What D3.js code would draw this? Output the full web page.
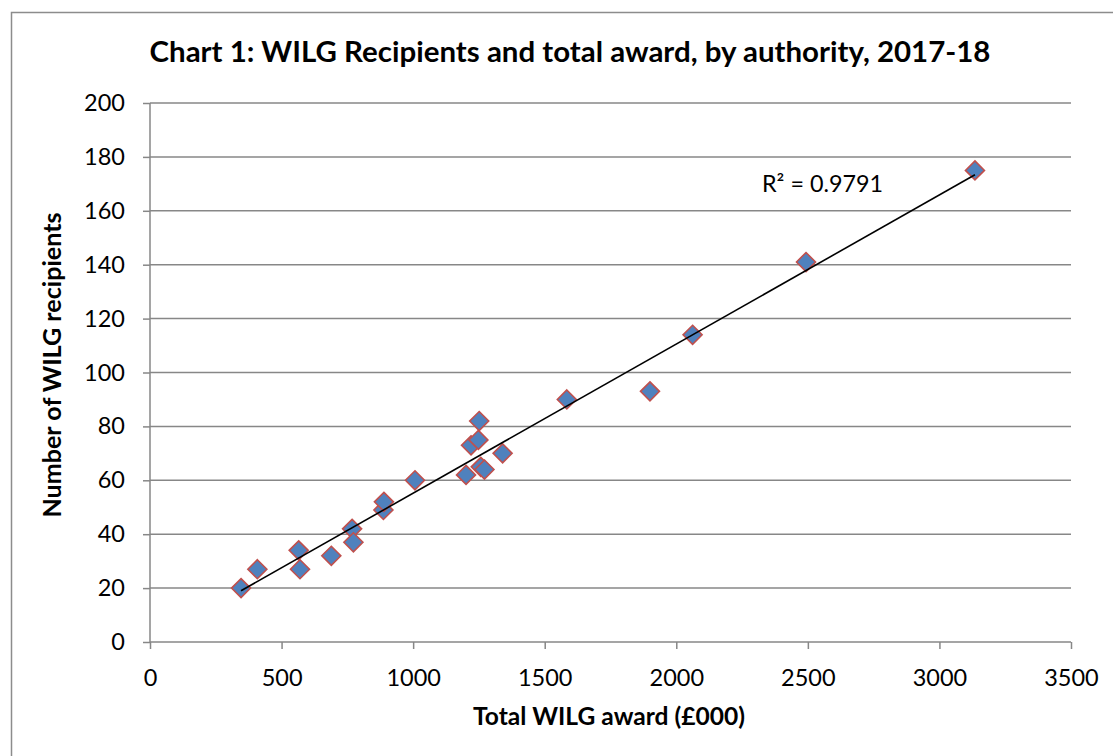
<!DOCTYPE html>
<html>
<head>
<meta charset="utf-8">
<script src="https://cdn.jsdelivr.net/npm/d3@7"></script>
<style>
  html, body { margin: 0; padding: 0; background: #fff; }
  svg { display: block; }
  text { font-family: Lato, "Open Sans", "Liberation Sans", sans-serif; fill: #000; }
</style>
</head>
<body>
<svg id="chart" width="1113" height="756"></svg>
<script>
const award = [346, 408, 565, 570, 689, 768, 773, 887, 889, 1007, 1201, 1220, 1248, 1251, 1257, 1271, 1340, 1584, 1900, 2062, 2493, 3135];
const recipients = [20, 27, 34, 27, 32, 42, 37, 49, 52, 60, 62, 73, 75, 82, 65, 64, 70, 90, 93, 114, 141, 175];
const xTicks = [0, 500, 1000, 1500, 2000, 2500, 3000, 3500];
const yTicks = [0, 20, 40, 60, 80, 100, 120, 140, 160, 180, 200];
const titleText = "Chart 1: WILG Recipients and total award, by authority, 2017-18";
const xTitle = "Total WILG award (£000)";
const yTitle = "Number of WILG recipients";
const r2Label = "R² = 0.9791";

const svg = d3.select("#chart");
const grid = "#878787";

svg.append("rect").attr("x", 11.5).attr("y", 12.5).attr("width", 1120).attr("height", 760)
  .attr("fill", "#fff").attr("stroke", "#8c8c8c").attr("stroke-width", 1.5);

const x = d3.scaleLinear().domain([0, 3500]).range([150, 1071]);
const y = d3.scaleLinear().domain([0, 200]).range([642, 103]);

function fit(sel, w) {
  let fs = parseFloat(sel.attr("font-size"));
  for (let i = 0; i < 3; i++) {
    const cw = sel.node().getComputedTextLength();
    fs = fs * w / cw;
    sel.attr("font-size", fs);
  }
}

// gridlines
svg.append("g").selectAll("line").data(yTicks.filter(d => d > 0)).join("line")
  .attr("x1", x(0)).attr("x2", x(3500))
  .attr("y1", d => y(d)).attr("y2", d => y(d))
  .attr("stroke", grid).attr("stroke-width", 1.5);

// y axis
const yAxis = svg.append("g").attr("transform", `translate(${x(0)},0)`)
  .call(d3.axisLeft(y).tickValues(yTicks).tickFormat(d3.format("d")).tickSize(7).tickPadding(18));
yAxis.select(".domain").attr("stroke", grid).attr("stroke-width", 1.5).attr("d", `M0,${y(0)}V${y(200)}`);
yAxis.selectAll(".tick line").attr("stroke", grid).attr("stroke-width", 1.5);
yAxis.selectAll(".tick text").attr("font-size", 23.5).attr("font-family", "Lato, sans-serif").attr("fill", "#000");

// x axis
const xAxis = svg.append("g").attr("transform", `translate(0,${y(0)})`)
  .call(d3.axisBottom(x).tickValues(xTicks).tickFormat(d3.format("d")).tickSize(7).tickPadding(20));
xAxis.select(".domain").attr("stroke", grid).attr("stroke-width", 1.5).attr("d", `M${x(0)},0H${x(3500)}`);
xAxis.selectAll(".tick line").attr("stroke", grid).attr("stroke-width", 1.5);
xAxis.selectAll(".tick text").attr("font-size", 23.5).attr("font-family", "Lato, sans-serif").attr("fill", "#000");

// trendline (least squares)
const n = award.length;
const mx = d3.mean(award), my = d3.mean(recipients);
let sxy = 0, sxx = 0;
for (let i = 0; i < n; i++) { sxy += (award[i] - mx) * (recipients[i] - my); sxx += (award[i] - mx) ** 2; }
const slope = sxy / sxx, icpt = my - slope * mx;
const x0 = d3.min(award), x1 = d3.max(award);

// markers
const diamond = d3.symbol().type(d3.symbolDiamond2).size(230);
svg.append("g").selectAll("path").data(award.map((a, i) => [a, recipients[i]])).join("path")
  .attr("d", diamond)
  .attr("transform", d => `translate(${x(d[0])},${y(d[1])})`)
  .attr("fill", "#4F81BD").attr("stroke", "#C0504D").attr("stroke-width", 1.6);

svg.append("line")
  .attr("x1", x(x0)).attr("y1", y(slope * x0 + icpt))
  .attr("x2", x(x1)).attr("y2", y(slope * x1 + icpt))
  .attr("stroke", "#000").attr("stroke-width", 1.6);

// R² label
const r2 = svg.append("text").attr("x", 762).attr("y", 192).attr("font-size", 23).text(r2Label);
fit(r2, 121);

// title
const t = svg.append("text").attr("x", 570).attr("y", 62).attr("text-anchor", "middle")
  .attr("font-size", 26).attr("font-weight", "bold").text(titleText);
fit(t, 841);

// axis titles
const xt = svg.append("text").attr("x", 609).attr("y", 725).attr("text-anchor", "middle")
  .attr("font-size", 22).attr("font-weight", "bold").text(xTitle);
fit(xt, 272);

const yt = svg.append("text").attr("transform", "translate(61,365) rotate(-90)").attr("text-anchor", "middle")
  .attr("font-size", 22).attr("font-weight", "bold").text(yTitle);
fit(yt, 305);
</script>
</body>
</html>
